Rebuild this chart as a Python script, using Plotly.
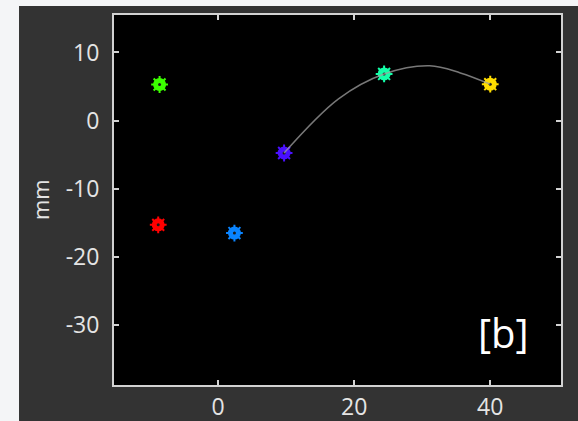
import plotly.graph_objects as go

# Tracked marker positions (mm)
point_x = [-8.6, -8.8, 2.4, 9.7, 24.4, 40.0]
point_y = [5.3, -15.3, -16.5, -4.75, 6.85, 5.35]
point_colors = ["#3cff00", "#ff0000", "#0a84ff", "#4a10ff", "#14ffa8", "#ffdd00"]

# Fitted trajectory samples (from the purple marker to the yellow one)
path_x = [9.7, 17.7, 24.4, 31.1, 35.6, 40.0]
path_y = [-4.75, 3.2, 6.85, 8.05, 7.0, 5.35]

x_ticks = [0, 20, 40]
x_tick_text = ["0", "20", "40"]
y_ticks = [-30, -20, -10, 0, 10]
y_tick_text = ["-30", "-20", "-10", "0", "10"]
panel_label = "[b]"
y_title = "mm"

frame_color = "#d2d2d2"
text_color = "#e4e4e4"
font_family = "Open Sans, Noto Sans, sans-serif"

fig = go.Figure()

# Filled disc body
fig.add_trace(go.Scatter(
    x=point_x, y=point_y, mode="markers",
    marker=dict(symbol="circle", size=13, color=point_colors, line=dict(width=0)),
    hoverinfo="skip", showlegend=False))
# Small bumps round each disc
fig.add_trace(go.Scatter(
    x=point_x, y=point_y, mode="markers",
    marker=dict(symbol="asterisk-open", size=14, color=point_colors,
                line=dict(width=2, color=point_colors)),
    hoverinfo="skip", showlegend=False))
# Dark centre dot
fig.add_trace(go.Scatter(
    x=point_x, y=point_y, mode="markers",
    marker=dict(symbol="circle", size=3, color="#1a1a1a", line=dict(width=0)),
    hoverinfo="skip", showlegend=False))
# Trajectory curve
fig.add_trace(go.Scatter(
    x=path_x, y=path_y, mode="lines",
    line=dict(color="rgba(160,160,160,0.75)", width=1.5, shape="spline", smoothing=1.0),
    hoverinfo="skip", showlegend=False))

axis_common = dict(
    showgrid=False, zeroline=False, automargin=False,
    showline=True, linecolor=frame_color, linewidth=2, mirror="all",
    ticks="inside", ticklen=5, tickwidth=2, tickcolor=frame_color,
    tickfont=dict(family=font_family, size=23, color=text_color),
)

fig.update_layout(
    width=578, height=421,
    margin=dict(l=114, r=17, t=15, b=36),
    paper_bgcolor="#333333",
    plot_bgcolor="#000000",
    xaxis=dict(range=[-15.3, 50.4], tickmode="array", tickvals=x_ticks,
               ticktext=x_tick_text, ticklabelstandoff=0, **axis_common),
    yaxis=dict(range=[-38.8, 15.5], tickmode="array", tickvals=y_ticks,
               ticktext=y_tick_text, ticklabelstandoff=8, **axis_common),
    shapes=[
        # light window border strips
        dict(type="rect", xref="paper", yref="paper", x0=-0.3, x1=-0.2125,
             y0=-0.2, y1=1.1, fillcolor="#f4f5f7", line=dict(width=0), layer="below"),
        dict(type="rect", xref="paper", yref="paper", x0=-0.3, x1=1.1,
             y0=1.0243, y1=1.1, fillcolor="#f4f5f7", line=dict(width=0), layer="below"),
    ],
    annotations=[
        dict(text=panel_label, x=41.9, y=-31.1, xref="x", yref="y",
             showarrow=False, font=dict(family=font_family, size=40, color="#ffffff"),
             xanchor="center", yanchor="middle"),
        dict(text=y_title, x=-0.1655, y=0.5, xref="paper", yref="paper",
             showarrow=False, textangle=-90,
             font=dict(family=font_family, size=22, color=text_color),
             xanchor="center", yanchor="middle"),
    ],
)

fig.write_html("out.html")
